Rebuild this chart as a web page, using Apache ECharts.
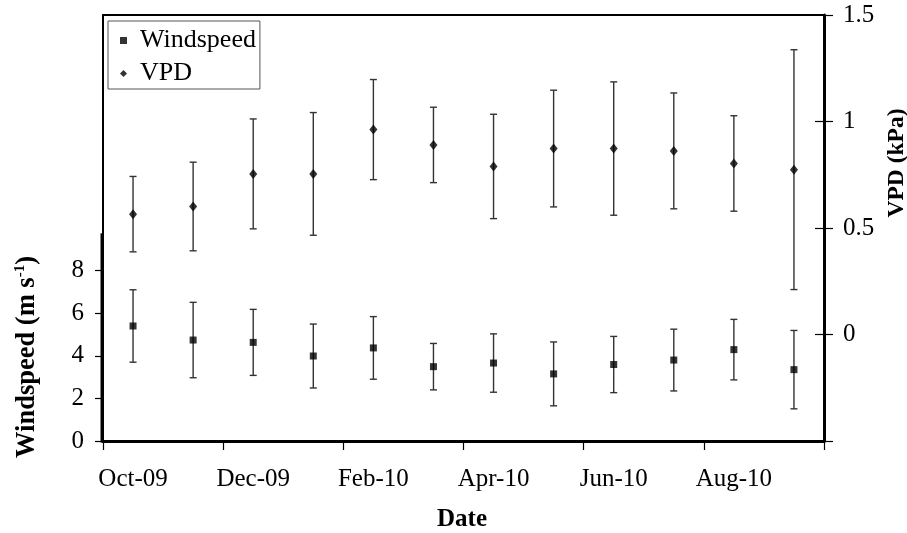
<!DOCTYPE html>
<html>
<head>
<meta charset="utf-8">
<script src="https://cdn.jsdelivr.net/npm/echarts@6/dist/echarts.min.js"></script>
<style>
html,body{margin:0;padding:0;background:#fff;}
#chart{width:907px;height:533px;}
</style>
</head>
<body>
<div id="chart"></div>
<script>
// ---- data ----
const categories = ['Oct-09','Nov-09','Dec-09','Jan-10','Feb-10','Mar-10','Apr-10','May-10','Jun-10','Jul-10','Aug-10','Sep-10'];
const windMean = [5.40, 4.74, 4.63, 3.99, 4.37, 3.49, 3.66, 3.15, 3.59, 3.80, 4.29, 3.35];
const windErr  = [1.70, 1.77, 1.55, 1.50, 1.47, 1.09, 1.37, 1.50, 1.32, 1.45, 1.42, 1.84];
const vpdMean  = [0.565, 0.601, 0.754, 0.754, 0.962, 0.890, 0.789, 0.873, 0.873, 0.862, 0.803, 0.774];
const vpdErr   = [0.177, 0.208, 0.258, 0.288, 0.235, 0.177, 0.245, 0.274, 0.313, 0.272, 0.224, 0.563];
const windTickLabels = [0, 2, 4, 6, 8];
const vpdTickLabels = [0, 0.5, 1, 1.5];
const vpdInnerTicks = [0, 0.5, 1];

const FONT = "'Liberation Serif','Times New Roman',serif";
const chart = echarts.init(document.getElementById('chart'), null, {renderer: 'canvas'});

function errBar(color) {
  return function (params, api) {
    const x = api.value(0);
    const lo = api.coord([x, api.value(1)]);
    const hi = api.coord([x, api.value(2)]);
    const hw = 3.5;
    const st = {stroke: color, lineWidth: 1.4};
    return {
      type: 'group',
      children: [
        {type: 'line', shape: {x1: lo[0], y1: lo[1], x2: hi[0], y2: hi[1]}, style: st},
        {type: 'line', shape: {x1: lo[0] - hw, y1: lo[1], x2: lo[0] + hw, y2: lo[1]}, style: st},
        {type: 'line', shape: {x1: hi[0] - hw, y1: hi[1], x2: hi[0] + hw, y2: hi[1]}, style: st}
      ]
    };
  };
}

const option = {
  animation: false,
  backgroundColor: '#fff',
  textStyle: {fontFamily: FONT, color: '#000'},
  grid: {left: 103, right: 83, top: 15, bottom: 92, show: true, borderColor: '#000', borderWidth: 2, backgroundColor: 'transparent'},
  legend: {
    data: [{name: 'Windspeed', icon: 'rect'}, {name: 'VPD', icon: 'diamond'}],
    orient: 'vertical', left: 108, top: 21,
    padding: [6, 4, 2, 12], itemGap: 6, itemWidth: 7, itemHeight: 7,
    borderColor: '#555', borderWidth: 1, backgroundColor: '#fff',
    textStyle: {fontSize: 26, fontFamily: FONT, color: '#000', lineHeight: 27, padding: [0, 0, 0, 8]}
  },
  xAxis: {
    type: 'category', data: categories, boundaryGap: true,
    axisLine: {show: true, lineStyle: {color: '#000', width: 3}},
    axisTick: {show: true, interval: 1, length: 9, alignWithLabel: false, lineStyle: {color: '#000', width: 1.2}},
    axisLabel: {interval: 1, fontSize: 25, fontFamily: FONT, color: '#000', margin: 26},
    splitLine: {show: false}
  },
  yAxis: [
    {
      type: 'value', position: 'left', min: 0, max: 20, interval: 2,
      axisLine: {show: false},
      axisTick: {show: true, length: 8, customValues: windTickLabels, lineStyle: {color: '#000', width: 1.2}},
      axisLabel: {customValues: windTickLabels, fontSize: 25, fontFamily: FONT, color: '#000', margin: 19},
      splitLine: {show: false}
    },
    {
      type: 'value', position: 'right', min: -0.5, max: 1.5, interval: 0.5,
      axisLine: {show: true, lineStyle: {color: '#000', width: 3}},
      axisTick: {show: true, length: 9, lineStyle: {color: '#000', width: 1.2}},
      axisLabel: {customValues: vpdTickLabels, fontSize: 25, fontFamily: FONT, color: '#000', margin: 19},
      splitLine: {show: false}
    },
    {
      type: 'value', position: 'right', min: -0.5, max: 1.5, interval: 0.5,
      axisLine: {show: false},
      axisTick: {show: true, inside: true, length: 9, customValues: vpdInnerTicks, lineStyle: {color: '#000', width: 1.2}},
      axisLabel: {show: false},
      splitLine: {show: false}
    }
  ],
  series: [
    {
      name: 'windErr', type: 'custom', xAxisIndex: 0, yAxisIndex: 0, z: 2,
      renderItem: errBar('#333'),
      encode: {x: 0, y: [1, 2]},
      data: windMean.map((v, i) => [i, v - windErr[i], v + windErr[i]])
    },
    {
      name: 'vpdErr', type: 'custom', xAxisIndex: 0, yAxisIndex: 1, z: 2,
      renderItem: errBar('#333'),
      encode: {x: 0, y: [1, 2]},
      data: vpdMean.map((v, i) => [i, v - vpdErr[i], v + vpdErr[i]])
    },
    {
      name: 'Windspeed', type: 'scatter', yAxisIndex: 0, z: 3,
      symbol: 'rect', symbolSize: 7, itemStyle: {color: '#000'},
      data: windMean.map((v, i) => [categories[i], v])
    },
    {
      name: 'VPD', type: 'scatter', yAxisIndex: 1, z: 3,
      symbol: 'diamond', symbolSize: [8, 10], itemStyle: {color: '#000'},
      data: vpdMean.map((v, i) => [categories[i], v])
    }
  ]
};
chart.setOption(option);

// thick left axis line covering the labelled part of the windspeed axis
const yb = chart.convertToPixel({yAxisIndex: 0}, 0);
const yt = chart.convertToPixel({yAxisIndex: 0}, 9.75);
const x0 = chart.convertToPixel({xAxisIndex: 0}, categories[0]);
const x1 = chart.convertToPixel({xAxisIndex: 0}, categories[1]);
const xl = x0 - (x1 - x0) / 2;

chart.setOption({
  graphic: [
    {
      id: 'xTitle', type: 'text', x: 462, y: 520, z: 10,
      style: {text: 'Date', font: 'bold 25px ' + FONT, fill: '#000', align: 'center', verticalAlign: 'middle'}
    },
    {
      id: 'yTitle', type: 'text', x: 27, y: 357, rotation: Math.PI / 2, z: 10,
      style: {
        text: '{b|Windspeed (m s}{s|-1}{b|)}',
        align: 'center', verticalAlign: 'middle', fill: '#000',
        rich: {
          b: {fontSize: 26.5, fontWeight: 'bold', fontFamily: FONT, lineHeight: 28, verticalAlign: 'bottom'},
          s: {fontSize: 15, fontWeight: 'bold', fontFamily: FONT, lineHeight: 15, verticalAlign: 'top'}
        }
      }
    },
    {
      id: 'y2Title', type: 'text', x: 897, y: 163, rotation: Math.PI / 2, z: 10,
      style: {text: 'VPD (kPa)', font: 'bold 23.5px ' + FONT, fill: '#000', align: 'center', verticalAlign: 'middle'}
    },
    {
      id: 'leftAxis', type: 'line', z: 5,
      shape: {x1: xl - 1, y1: yb + 1.5, x2: xl - 1, y2: yt},
      style: {stroke: '#000', lineWidth: 3}
    }
  ]
});
</script>
</body>
</html>
